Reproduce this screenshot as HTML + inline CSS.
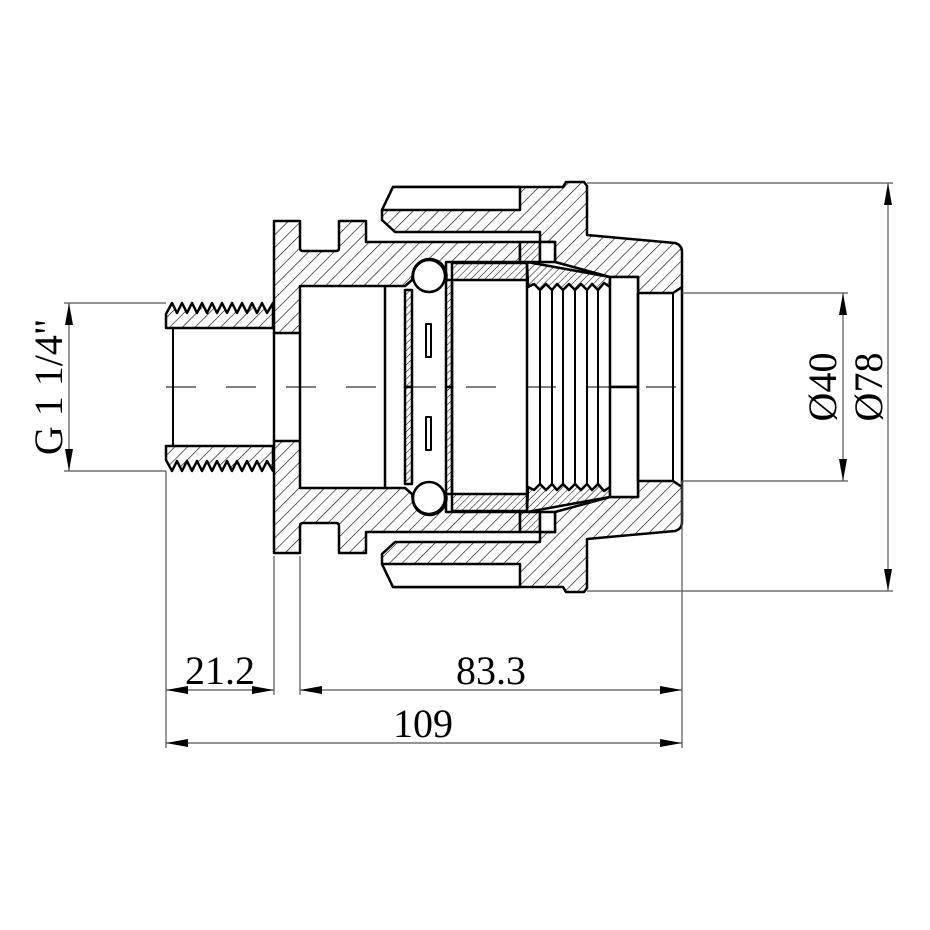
<!DOCTYPE html>
<html><head><meta charset="utf-8"><style>html,body{margin:0;padding:0;background:#fff}svg{display:block}</style></head>
<body>
<svg width="930" height="930" viewBox="0 0 930 930" xmlns="http://www.w3.org/2000/svg">
<defs>
<pattern id="h" width="9" height="9" patternUnits="userSpaceOnUse" patternTransform="rotate(45)">
<rect width="9" height="9" fill="#fff"/><line x1="0" y1="0" x2="0" y2="9" stroke="#000" stroke-width="1.2"/></pattern>
<pattern id="hb" width="9" height="9" patternUnits="userSpaceOnUse" patternTransform="rotate(-45)">
<rect width="9" height="9" fill="#fff"/><line x1="0" y1="0" x2="0" y2="9" stroke="#000" stroke-width="1.2"/></pattern>
<pattern id="h2" width="5" height="5" patternUnits="userSpaceOnUse" patternTransform="rotate(45)">
<rect width="5" height="5" fill="#fff"/><line x1="0" y1="0" x2="0" y2="5" stroke="#000" stroke-width="1"/></pattern>
<pattern id="h2b" width="5" height="5" patternUnits="userSpaceOnUse" patternTransform="rotate(-45)">
<rect width="5" height="5" fill="#fff"/><line x1="0" y1="0" x2="0" y2="5" stroke="#000" stroke-width="1"/></pattern>
<marker id="a" viewBox="0 0 22 8" refX="22" refY="4" markerWidth="22" markerHeight="8" markerUnits="userSpaceOnUse" orient="auto-start-reverse"><path d="M0,0 L22,4 L0,8 Z" fill="#000"/></marker>
</defs>
<g id="top" stroke="#000" stroke-width="2.5" stroke-linejoin="round">
<path class="H" d="M166,328 L166,314 L172,303 L177,313 L182,303 L187,313 L192,303 L197,313 L202,303 L207,313 L212,303 L217,313 L222,303 L227,313 L232,303 L237,313 L242,303 L247,313 L252,303 L257,313 L262,303 L267,313 L273,303 L273,328 Z"/>
<line x1="173" y1="328" x2="173" y2="387" stroke-width="2"/>
<path class="H" d="M274,221 L300,221 L300,248 Q300,251 303,251 L336,251 Q339,251 339,248 L339,221 L366,221 L366,242 L520,242 L520,262 L446,262 L446,280 A16,16 0 0 0 413,272 L412,280 L405,286 L300,286 L300,333 L274,333 Z"/>
<line x1="274" y1="333" x2="274" y2="387"/>
<line x1="300" y1="333" x2="300" y2="387"/>
<line x1="385" y1="286" x2="385" y2="387"/>
<rect class="G" x="405" y="290" width="7" height="97"/>
<rect class="G" x="446" y="280" width="6" height="107"/>
<circle cx="429" cy="276" r="16" fill="#fff"/>
<rect x="426" y="324" width="5" height="33" fill="#fff" stroke-width="2"/>
<rect class="G" x="452" y="263" width="75" height="17"/>
<line x1="452" y1="280" x2="452" y2="387"/>
<line x1="527" y1="280" x2="527" y2="387"/>
<path class="G" d="M527,262 L610,277 L610,287 L604,283 L598,290 L592,284 L587,290 L581,284 L575,290 L569,284 L563,290 L557,284 L552,290 L546,284 L540,290 L534,284 L528,287 Z"/>
<g stroke-width="2">
<line x1="540" y1="290" x2="540" y2="387"/><line x1="552" y1="290" x2="552" y2="387"/>
<line x1="563" y1="290" x2="563" y2="387"/><line x1="575" y1="290" x2="575" y2="387"/>
<line x1="587" y1="290" x2="587" y2="387"/><line x1="598" y1="290" x2="598" y2="387"/>
</g>
<path class="H" d="M382,210 L393,187 L563,187 L566,182 L584,182 L587,186 L587,235 L675,243 Q682,245 682,252 L682,287 L673,293 L638,293 L638,277 L610,277 L555,262 L555,242 L540,242 L540,232 L395,232 L382,220 Z"/>
<path fill="#fff" d="M393,187 L520,187 L520,210 L382,210 Z"/>
<rect class="G" x="520" y="242" width="20" height="20"/>
<rect x="540" y="242" width="15" height="20" fill="#fff"/>
<rect x="610" y="277" width="28" height="110" fill="#fff"/>
<line x1="638" y1="293" x2="638" y2="387"/>
<line x1="673" y1="293" x2="673" y2="387" stroke-width="2"/>
<line x1="682" y1="287" x2="682" y2="387"/>
</g>
<style>
#top .H{fill:url(#h)} #top .G{fill:url(#h2)}
#bot .H{fill:url(#hb)} #bot .G{fill:url(#h2b)}
</style>
<g id="bot" transform="translate(0,774) scale(1,-1)" stroke="#000" stroke-width="2.5" stroke-linejoin="round">
<path class="H" d="M166,328 L166,314 L172,303 L177,313 L182,303 L187,313 L192,303 L197,313 L202,303 L207,313 L212,303 L217,313 L222,303 L227,313 L232,303 L237,313 L242,303 L247,313 L252,303 L257,313 L262,303 L267,313 L273,303 L273,328 Z"/>
<line x1="173" y1="328" x2="173" y2="387" stroke-width="2"/>
<path class="H" d="M274,221 L300,221 L300,248 Q300,251 303,251 L336,251 Q339,251 339,248 L339,221 L366,221 L366,242 L520,242 L520,262 L446,262 L446,280 A16,16 0 0 0 413,272 L412,280 L405,286 L300,286 L300,333 L274,333 Z"/>
<line x1="274" y1="333" x2="274" y2="387"/>
<line x1="300" y1="333" x2="300" y2="387"/>
<line x1="385" y1="286" x2="385" y2="387"/>
<rect class="G" x="405" y="290" width="7" height="97"/>
<rect class="G" x="446" y="280" width="6" height="107"/>
<circle cx="429" cy="276" r="16" fill="#fff"/>
<rect x="426" y="324" width="5" height="33" fill="#fff" stroke-width="2"/>
<rect class="G" x="452" y="263" width="75" height="17"/>
<line x1="452" y1="280" x2="452" y2="387"/>
<line x1="527" y1="280" x2="527" y2="387"/>
<path class="G" d="M527,262 L610,277 L610,287 L604,283 L598,290 L592,284 L587,290 L581,284 L575,290 L569,284 L563,290 L557,284 L552,290 L546,284 L540,290 L534,284 L528,287 Z"/>
<g stroke-width="2">
<line x1="540" y1="290" x2="540" y2="387"/><line x1="552" y1="290" x2="552" y2="387"/>
<line x1="563" y1="290" x2="563" y2="387"/><line x1="575" y1="290" x2="575" y2="387"/>
<line x1="587" y1="290" x2="587" y2="387"/><line x1="598" y1="290" x2="598" y2="387"/>
</g>
<path class="H" d="M382,210 L393,187 L563,187 L566,182 L584,182 L587,186 L587,235 L675,243 Q682,245 682,252 L682,287 L673,293 L638,293 L638,277 L610,277 L555,262 L555,242 L540,242 L540,232 L395,232 L382,220 Z"/>
<path fill="#fff" d="M393,187 L520,187 L520,210 L382,210 Z"/>
<rect class="G" x="520" y="242" width="20" height="20"/>
<rect x="540" y="242" width="15" height="20" fill="#fff"/>
<rect x="610" y="277" width="28" height="110" fill="#fff"/>
<line x1="638" y1="293" x2="638" y2="387"/>
<line x1="673" y1="293" x2="673" y2="387" stroke-width="2"/>
<line x1="682" y1="287" x2="682" y2="387"/>
</g>
<line x1="166" y1="387" x2="682" y2="387" stroke="#000" stroke-width="1" stroke-dasharray="30,30"/>
<g stroke="#555" stroke-width="1.2" fill="none">
<line x1="587" y1="183" x2="893" y2="183"/><line x1="587" y1="591" x2="893" y2="591"/>
<line x1="888" y1="183" x2="888" y2="591" marker-start="url(#a)" marker-end="url(#a)"/>
<line x1="682" y1="293" x2="848" y2="293"/><line x1="682" y1="481" x2="848" y2="481"/>
<line x1="843" y1="293" x2="843" y2="481" marker-start="url(#a)" marker-end="url(#a)"/>
<line x1="64" y1="303" x2="166" y2="303"/><line x1="64" y1="471" x2="166" y2="471"/>
<line x1="69" y1="303" x2="69" y2="471" marker-start="url(#a)" marker-end="url(#a)"/>
<line x1="166" y1="471" x2="166" y2="748"/>
<line x1="274" y1="556" x2="274" y2="695"/>
<line x1="300" y1="556" x2="300" y2="695"/>
<line x1="682" y1="481" x2="682" y2="748"/>
<line x1="166" y1="690" x2="274" y2="690" marker-start="url(#a)" marker-end="url(#a)"/>
<line x1="300" y1="690" x2="682" y2="690" marker-start="url(#a)" marker-end="url(#a)"/>
<line x1="166" y1="743" x2="682" y2="743" marker-start="url(#a)" marker-end="url(#a)"/>
</g>
<g font-family="Liberation Serif, serif" font-size="40" fill="#000" text-anchor="middle">
<text x="220" y="684">21.2</text>
<text x="491" y="684">83.3</text>
<text x="423" y="737">109</text>
<text transform="translate(836,387) rotate(-90)">Ø40</text>
<text transform="translate(882,387) rotate(-90)">Ø78</text>
<text transform="translate(62,387) rotate(-90)">G 1 1/4"</text>
</g>
</svg>
</body></html>
